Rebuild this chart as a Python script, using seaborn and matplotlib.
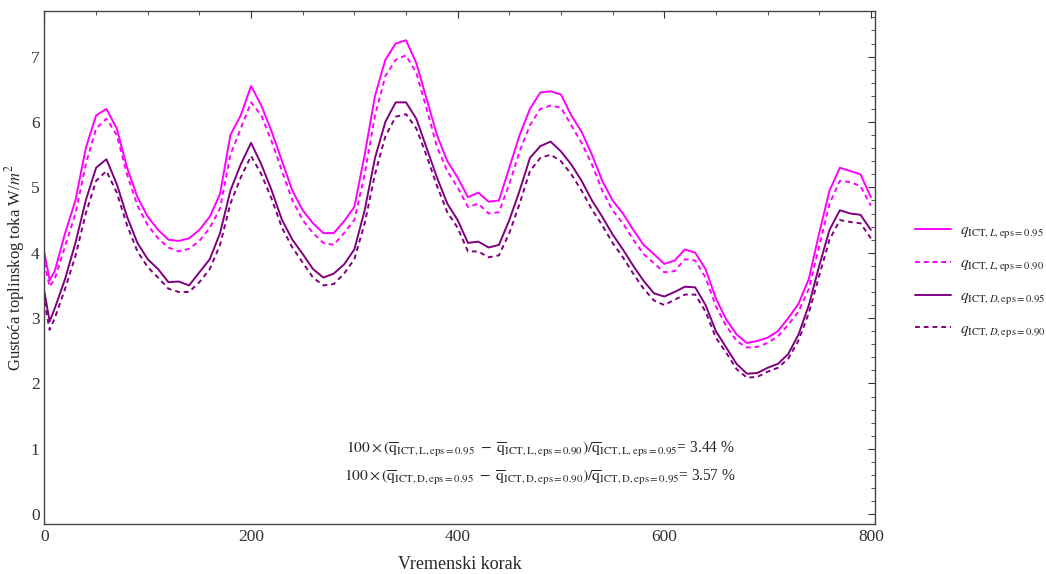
import numpy as np
import pandas as pd
import matplotlib
matplotlib.use('Agg')
import matplotlib.pyplot as plt
import seaborn as sns
from matplotlib.lines import Line2D
from matplotlib.ticker import MultipleLocator

# Vremenski koraci (ocitano s grafa)
koraci = [0, 5] + list(range(10, 801, 10))

q_L_095 = [4.0, 3.58, 3.72, 4.3, 4.8, 5.6, 6.1, 6.2, 5.9, 5.3,
           4.85, 4.55, 4.35, 4.2, 4.18, 4.22, 4.35, 4.55, 4.9, 5.8,
           6.1, 6.55, 6.25, 5.85, 5.4, 4.95, 4.65, 4.45, 4.3, 4.3,
           4.48, 4.7, 5.5, 6.4, 6.95, 7.2, 7.25, 6.9, 6.35, 5.8,
           5.4, 5.15, 4.85, 4.92, 4.78, 4.8, 5.3, 5.8, 6.2, 6.45,
           6.47, 6.42, 6.1, 5.85, 5.5, 5.1, 4.8, 4.6, 4.35, 4.12,
           3.98, 3.83, 3.88, 4.05, 4.0, 3.75, 3.3, 2.98, 2.75, 2.62,
           2.65, 2.7, 2.8, 3.0, 3.22, 3.6, 4.3, 4.95, 5.3, 5.25,
           5.2, 4.85]

q_L_090 = [3.85, 3.48, 3.6, 4.1, 4.6, 5.35, 5.9, 6.05, 5.8, 5.2,
           4.72, 4.42, 4.22, 4.08, 4.02, 4.06, 4.18, 4.38, 4.68, 5.5,
           5.9, 6.3, 6.1, 5.7, 5.25, 4.8, 4.5, 4.3, 4.15, 4.12,
           4.3, 4.5, 5.2, 6.1, 6.7, 6.95, 7.02, 6.75, 6.2, 5.62,
           5.25, 5.0, 4.7, 4.75, 4.6, 4.62, 5.05, 5.55, 5.95, 6.2,
           6.25, 6.22, 5.95, 5.68, 5.35, 4.95, 4.65, 4.45, 4.2, 3.98,
           3.84, 3.7, 3.72, 3.9, 3.88, 3.62, 3.18, 2.88, 2.65, 2.55,
           2.56, 2.62, 2.72, 2.9, 3.1, 3.45, 4.1, 4.75, 5.1, 5.08,
           5.02, 4.72]

q_D_095 = [3.4, 2.95, 3.15, 3.6, 4.15, 4.8, 5.3, 5.43, 5.05, 4.55,
           4.15, 3.9, 3.75, 3.55, 3.56, 3.5, 3.7, 3.9, 4.3, 4.95,
           5.35, 5.68, 5.35, 4.95, 4.5, 4.2, 3.98, 3.75, 3.62, 3.68,
           3.82, 4.05, 4.65, 5.45, 6.0, 6.3, 6.3, 6.05, 5.6, 5.15,
           4.75, 4.5, 4.15, 4.17, 4.08, 4.12, 4.5, 4.95, 5.45, 5.63,
           5.7, 5.55, 5.35, 5.1, 4.8, 4.55, 4.28, 4.05, 3.8, 3.57,
           3.38, 3.33, 3.4, 3.48, 3.47, 3.2, 2.8, 2.55, 2.3, 2.15,
           2.16, 2.24, 2.3, 2.45, 2.75, 3.2, 3.8, 4.35, 4.65, 4.6,
           4.58, 4.35]

q_D_090 = [3.25, 2.82, 3.0, 3.45, 3.95, 4.6, 5.1, 5.25, 4.92, 4.42,
           4.02, 3.78, 3.62, 3.45, 3.4, 3.4, 3.55, 3.75, 4.12, 4.75,
           5.15, 5.48, 5.2, 4.82, 4.38, 4.08, 3.85, 3.62, 3.5, 3.52,
           3.68, 3.9, 4.45, 5.2, 5.78, 6.08, 6.12, 5.9, 5.48, 5.02,
           4.62, 4.38, 4.02, 4.02, 3.93, 3.96, 4.3, 4.75, 5.25, 5.45,
           5.5, 5.4, 5.2, 4.95, 4.66, 4.42, 4.15, 3.93, 3.68, 3.45,
           3.27, 3.2, 3.28, 3.36, 3.36, 3.1, 2.7, 2.47, 2.22, 2.09,
           2.1, 2.18, 2.24, 2.38, 2.66, 3.08, 3.65, 4.2, 4.5, 4.47,
           4.45, 4.22]

oznake = [r'$q_{\mathrm{ICT},L,\mathrm{eps=0.95}}$',
          r'$q_{\mathrm{ICT},L,\mathrm{eps=0.90}}$',
          r'$q_{\mathrm{ICT},D,\mathrm{eps=0.95}}$',
          r'$q_{\mathrm{ICT},D,\mathrm{eps=0.90}}$']

sns.set_style('white')
plt.rcParams['font.family'] = ['Liberation Serif', 'DejaVu Serif']
plt.rcParams['mathtext.fontset'] = 'stix'

boje = ['#ff00ff', '#ff00ff', '#800080', '#800080']
stilovi = ['-', '--', '-', '--']
serije = [q_L_095, q_L_090, q_D_095, q_D_090]

fig = plt.figure(figsize=(10.46, 5.74), dpi=100)
ax = fig.add_axes([0.0425, 0.087, 0.794, 0.893])

for y, c, ls in zip(serije, boje, stilovi):
    df = pd.DataFrame({'korak': koraci, 'q': y})
    sns.lineplot(data=df, x='korak', y='q', ax=ax, color=c, linewidth=1.4)
    if ls == '--':
        ax.lines[-1].set_dashes((2.5, 2))

ax.set_xlim(0, 804)
ax.set_ylim(-0.15, 7.69)
ax.xaxis.set_major_locator(MultipleLocator(200))
ax.xaxis.set_minor_locator(MultipleLocator(50))
ax.yaxis.set_major_locator(MultipleLocator(1))
ax.yaxis.set_minor_locator(MultipleLocator(0.2))
ax.tick_params(which='both', direction='in', top=True, right=True,
               labelsize=12.5, colors='#333333')
ax.tick_params(which='major', length=5)
ax.tick_params(which='minor', length=3)
for s in ax.spines.values():
    s.set_color('#444444')
    s.set_linewidth(1.0)

ax.set_xlabel('Vremenski korak', fontsize=13, labelpad=8)
ax.set_ylabel(r'Gustoća toplinskog toka W/$m^2$', fontsize=12)
ax.yaxis.set_label_coords(-0.0205, 0.5)

ax.text(480, 0.99,
        r'$100\times(\overline{\mathrm{q}}_{\mathrm{ICT,L,eps=0.95}}\ -\ '
        r'\overline{\mathrm{q}}_{\mathrm{ICT,L,eps=0.90}})/'
        r'\overline{\mathrm{q}}_{\mathrm{ICT,L,eps=0.95}}$= 3.44 %',
        ha='center', va='center', fontsize=11.2)
ax.text(480, 0.56,
        r'$100\times(\overline{\mathrm{q}}_{\mathrm{ICT,D,eps=0.95}}\ -\ '
        r'\overline{\mathrm{q}}_{\mathrm{ICT,D,eps=0.90}})/'
        r'\overline{\mathrm{q}}_{\mathrm{ICT,D,eps=0.95}}$= 3.57 %',
        ha='center', va='center', fontsize=11.2)

rucke = []
for c, ls in zip(boje, stilovi):
    h = Line2D([], [], color=c, linewidth=1.4)
    if ls == '--':
        h.set_dashes((2.5, 2))
    rucke.append(h)
fig.legend(rucke, oznake, loc='center left', bbox_to_anchor=(0.862, 0.51),
           frameon=False, fontsize=11, handlelength=2.3, labelspacing=1.05,
           handletextpad=0.65)

fig.savefig('out.png', dpi=100)
